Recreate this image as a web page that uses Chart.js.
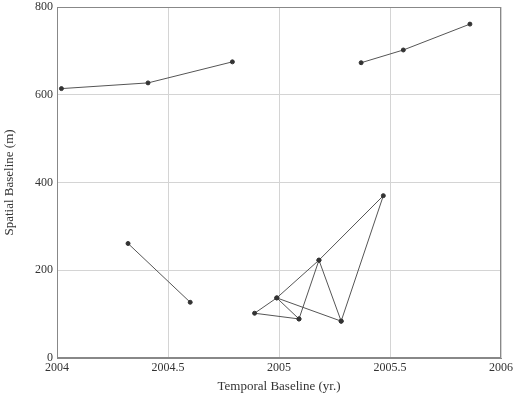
<!DOCTYPE html>
<html>
<head>
<meta charset="utf-8">
<script src="https://cdn.jsdelivr.net/npm/chart.js@4/dist/chart.umd.min.js"></script>
<style>
  body { margin: 0; background: #fff; }
</style>
</head>
<body>
<canvas id="baselines" width="520" height="400"></canvas>
<script>
// acquisition pairs
const topLeftYears = [2004.02, 2004.41, 2004.79];
const topLeftBaselines = [614, 627, 675];

const topRightYears = [2005.37, 2005.56, 2005.86];
const topRightBaselines = [673, 702, 761];

const lowLeftYears = [2004.32, 2004.60];
const lowLeftBaselines = [261, 127];

// triangle network, walked as one path: C-A-B-C-D-B-E-D-F-E
const networkYears = [2005.09, 2004.89, 2004.99, 2005.09, 2005.18, 2004.99, 2005.28, 2005.18, 2005.47, 2005.28];
const networkBaselines = [89, 102, 137, 89, 223, 137, 84, 223, 370, 84];

const xTicks = [2004, 2004.5, 2005, 2005.5, 2006];
const yTicks = [0, 200, 400, 600, 800];

function pairs(xs, ys) {
  return xs.map((x, i) => ({x: x, y: ys[i]}));
}

function series(xs, ys) {
  return {
    data: pairs(xs, ys),
    showLine: true,
    borderColor: "#555",
    borderWidth: 1,
    backgroundColor: "#333",
    pointBackgroundColor: "#333",
    pointBorderColor: "#333",
    pointRadius: 2,
    tension: 0
  };
}

const serif = "'Liberation Serif', 'DejaVu Serif', serif";

new Chart(document.getElementById("baselines"), {
  type: "scatter",
  data: {
    datasets: [
      series(topLeftYears, topLeftBaselines),
      series(topRightYears, topRightBaselines),
      series(lowLeftYears, lowLeftBaselines),
      series(networkYears, networkBaselines)
    ]
  },
  options: {
    responsive: false,
    animation: false,
    layout: { padding: { top: 7, right: 19, left: 0, bottom: 0 } },
    plugins: {
      legend: { display: false },
      tooltip: { enabled: false }
    },
    scales: {
      x: {
        type: "linear",
        min: 2004,
        max: 2006,
        afterBuildTicks: (axis) => { axis.ticks = xTicks.map(v => ({value: v})); },
        ticks: {
          color: "#333",
          font: { family: serif, size: 12 },
          padding: 3,
          maxRotation: 0,
          callback: (v) => String(v)
        },
        grid: { color: "#d4d4d4", drawTicks: false },
        border: { color: "#888" },
        title: {
          display: true,
          text: "Temporal Baseline (yr.)",
          color: "#333",
          font: { family: serif, size: 13 },
          padding: { top: 2, bottom: 6 }
        },
        afterFit: (axis) => { axis.height = 42; }
      },
      y: {
        min: 0,
        max: 800,
        afterBuildTicks: (axis) => { axis.ticks = yTicks.map(v => ({value: v})); },
        ticks: {
          color: "#333",
          font: { family: serif, size: 12 },
          padding: 4,
          callback: (v) => String(v)
        },
        grid: { color: "#d4d4d4", drawTicks: false },
        border: { color: "#888" },
        title: {
          display: true,
          text: "Spatial Baseline (m)",
          color: "#333",
          font: { family: serif, size: 13 },
          padding: { top: 2, bottom: 2 }
        },
        afterFit: (axis) => {
          axis.width = 57;
          // let the top label hang into the outer padding
          axis.paddingTop = 0;
          axis.paddingBottom = 0;
        }
      }
    }
  },
  plugins: [{
    // closed box round the plot, like the original figure
    id: "frame",
    afterDraw(chart) {
      const a = chart.chartArea, ctx = chart.ctx;
      ctx.save();
      ctx.strokeStyle = "#888";
      ctx.lineWidth = 1;
      ctx.strokeRect(a.left + 0.5, a.top + 0.5, a.right - a.left - 1, a.bottom - a.top - 1);
      ctx.restore();
    }
  }]
});
</script>
</body>
</html>
